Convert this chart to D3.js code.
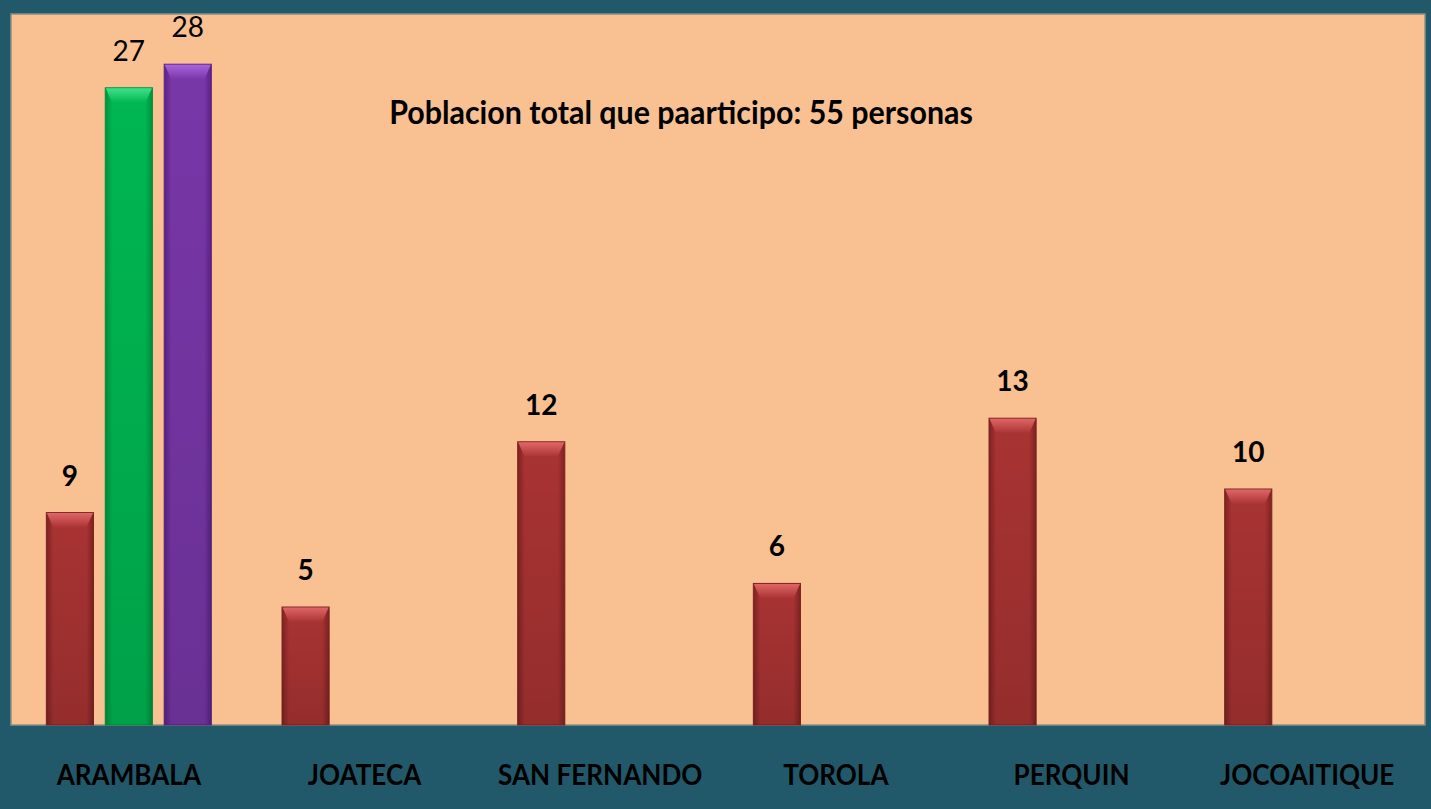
<!DOCTYPE html>
<html>
<head>
<meta charset="utf-8">
<script src="https://cdn.jsdelivr.net/npm/d3@7"></script>
<style>
  html, body { margin: 0; padding: 0; background: #22596a; }
  svg { display: block; }
</style>
</head>
<body>
<div id="chart"></div>
<script>
// Chart data
const categories = ["ARAMBALA", "JOATECA", "SAN FERNANDO", "TOROLA", "PERQUIN", "JOCOAITIQUE"];
const seriesNames = ["s1", "s2", "s3"];
const series1 = [9, 5, 12, 6, 13, 10];
const series2 = [27, null, null, null, null, null];
const series3 = [28, null, null, null, null, null];
const titleText = "Poblacion total que paarticipo: 55 personas";

const width = 1431, height = 809;
const plot = { left: 11, top: 14, right: 1425, bottom: 725 };

const svg = d3.select("#chart")
    .append("svg")
    .attr("width", width)
    .attr("height", height);

const defs = svg.append("defs");

// colours for each series: base, dark edge, light bevel
const palette = {
    s1: { base: "#a93333", dark: "#7e2222", light: "#e06666" },
    s2: { base: "#00b752", dark: "#00903e", light: "#3fe08a" },
    s3: { base: "#7837a8", dark: "#5a2285", light: "#a964db" }
};

Object.keys(palette).forEach(function(k) {
    const p = palette[k];
    const g = defs.append("linearGradient").attr("id", "grad-" + k)
        .attr("x1", "0").attr("x2", "1").attr("y1", "0").attr("y2", "0");
    g.append("stop").attr("offset", "0%").attr("stop-color", p.dark);
    g.append("stop").attr("offset", "15%").attr("stop-color", p.base);
    g.append("stop").attr("offset", "85%").attr("stop-color", p.base);
    g.append("stop").attr("offset", "100%").attr("stop-color", p.dark);
    const v = defs.append("linearGradient").attr("id", "vgrad-" + k)
        .attr("x1", "0").attr("x2", "0").attr("y1", "0").attr("y2", "1");
    v.append("stop").attr("offset", "0%").attr("stop-color", "#000").attr("stop-opacity", 0);
    v.append("stop").attr("offset", "100%").attr("stop-color", "#000").attr("stop-opacity", 0.12);
    // bevel: light at top fading to base
    const b = defs.append("linearGradient").attr("id", "bgrad-" + k)
        .attr("x1", "0").attr("x2", "0").attr("y1", "0").attr("y2", "1");
    b.append("stop").attr("offset", "0%").attr("stop-color", p.light);
    b.append("stop").attr("offset", "100%").attr("stop-color", p.base);
});

// plot background
svg.append("rect")
    .attr("x", plot.left)
    .attr("y", plot.top)
    .attr("width", plot.right - plot.left)
    .attr("height", plot.bottom - plot.top)
    .attr("fill", "#f9c192")
    .attr("stroke", "#8a8f86")
    .attr("stroke-width", 1.5);

// scales
const x0 = d3.scaleBand()
    .domain(categories)
    .range([plot.left, plot.right])
    .padding(0);

const x1 = d3.scaleBand()
    .domain(seriesNames)
    .range([0, x0.bandwidth()])
    .paddingInner(0.2)
    .paddingOuter(0.6);

const y = d3.scaleLinear()
    .domain([0, 30])
    .range([plot.bottom, plot.bottom - 30 * 23.6]);

// build rows from the arrays
const allSeries = [series1, series2, series3];
const bars = [];
categories.forEach(function(cat, i) {
    seriesNames.forEach(function(s, j) {
        const v = allSeries[j][i];
        if (v != null) bars.push({ cat: cat, key: s, value: v });
    });
});

const barG = svg.append("g")
    .selectAll("g")
    .data(bars)
    .enter()
    .append("g")
    .attr("transform", function(d) {
        return `translate(${x0(d.cat) + x1(d.key)},0)`;
    });

const bw = x1.bandwidth();

barG.append("rect")
    .attr("x", 0)
    .attr("y", d => y(d.value))
    .attr("width", bw)
    .attr("height", d => y(0) - y(d.value))
    .attr("fill", d => "url(#grad-" + d.key + ")")
    .attr("stroke", d => palette[d.key].dark)
    .attr("stroke-width", 1);

barG.append("rect")
    .attr("x", 0)
    .attr("y", d => y(d.value))
    .attr("width", bw)
    .attr("height", d => y(0) - y(d.value))
    .attr("fill", d => "url(#vgrad-" + d.key + ")");

// top bevel
barG.append("path")
    .attr("d", function(d) {
        const t = y(d.value), b = 15, s = 7;
        return `M0.5,${t + 0.5} L${bw - 0.5},${t + 0.5} L${bw - s},${t + b} L${s},${t + b} Z`;
    })
    .attr("fill", d => "url(#bgrad-" + d.key + ")");

// value labels
barG.append("text")
    .attr("x", bw / 2)
    .attr("y", d => y(d.value) - 27)
    .attr("text-anchor", "middle")
    .attr("font-family", "Lato, 'Open Sans', sans-serif")
    .attr("font-size", "28px")
    .attr("font-weight", d => d.key === "s1" ? "bold" : "normal")
    .attr("fill", "#000")
    .text(d => d.value);

// category labels (narrowed a little, like the original condensed face)
svg.append("g")
    .selectAll("text")
    .data(categories)
    .enter()
    .append("text")
    .attr("transform", d => `translate(${x0(d) + x0.bandwidth() / 2},785) scale(0.9,1)`)
    .attr("text-anchor", "middle")
    .attr("font-family", "Lato, 'Open Sans', sans-serif")
    .attr("font-size", "29px")
    .attr("font-weight", "bold")
    .attr("fill", "#000")
    .text(d => d);

// title
svg.append("text")
    .attr("transform", "translate(681,124) scale(0.95,1)")
    .attr("text-anchor", "middle")
    .attr("font-family", "Lato, 'Open Sans', sans-serif")
    .attr("font-size", "32px")
    .attr("font-weight", "bold")
    .attr("fill", "#000")
    .text(titleText);
</script>
</body>
</html>
